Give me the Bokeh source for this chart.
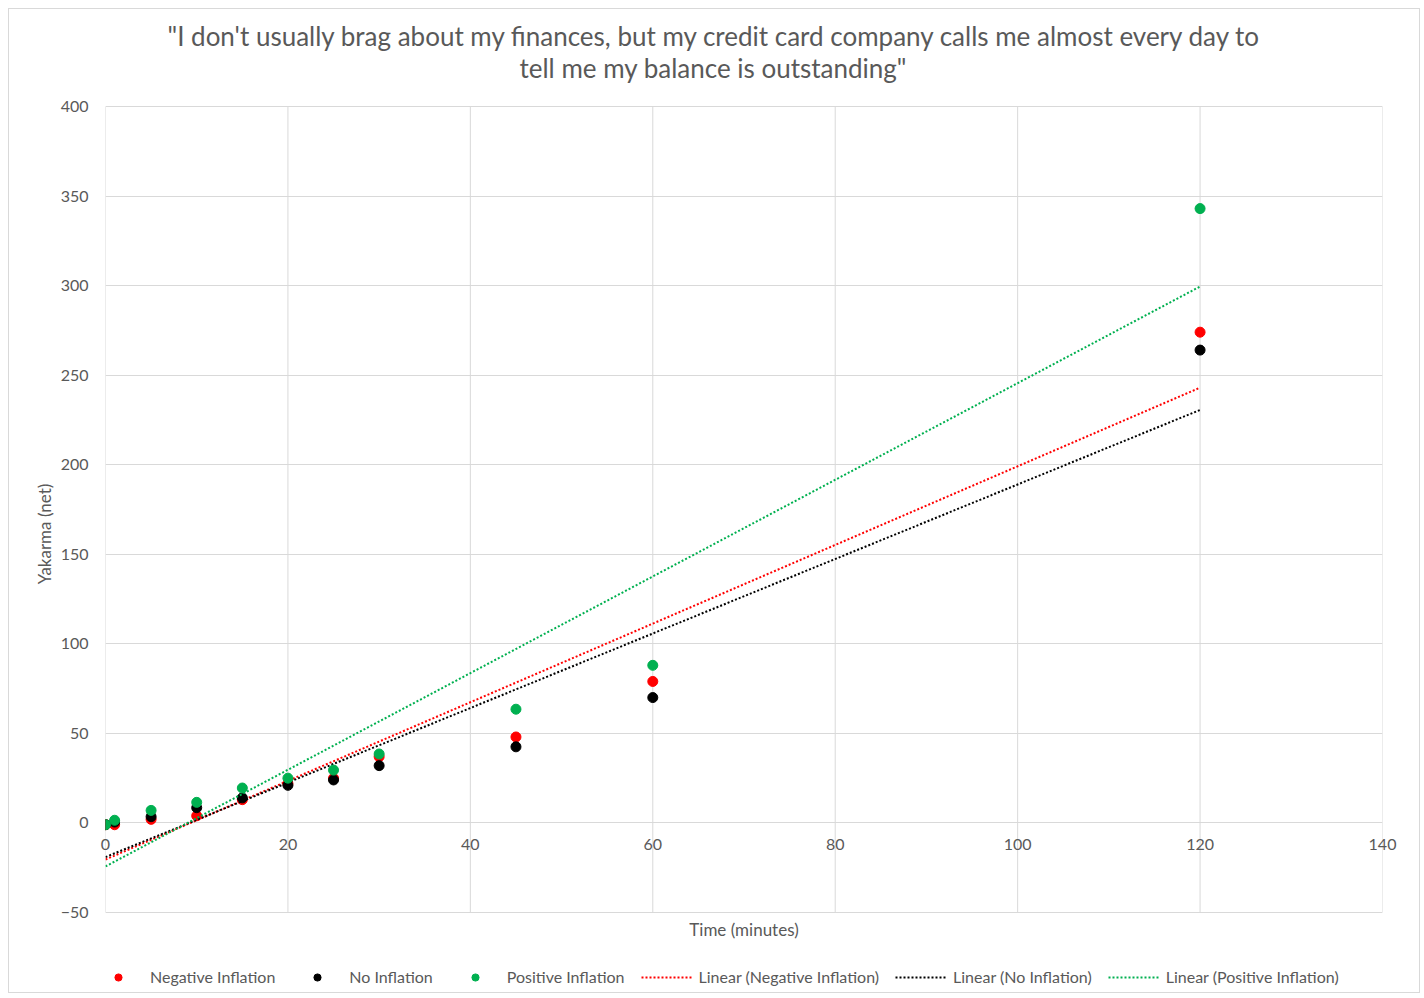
import numpy as np
from bokeh.plotting import figure
from bokeh.models import Range1d, Legend, LegendItem, FixedTicker, Title
from bokeh.embed import file_html
from bokeh.resources import INLINE

# ---- data ----
time_min = [0, 1, 5, 10, 15, 20, 25, 30, 45, 60, 120]
negative_inflation = [-1, -1, 2, 4, 13, 22, 25, 37, 48, 79, 274]
no_inflation = [-1, 0.5, 3.5, 8.5, 14, 21, 24, 32, 42.5, 70, 264]
positive_inflation = [-1, 1.5, 7, 11.5, 19.5, 25, 29.5, 38.5, 63.5, 88, 343]

series_names = ["Negative Inflation", "No Inflation", "Positive Inflation"]
series_colors = ["#FF0000", "#000000", "#00B050"]

x_ticks = [0, 20, 40, 60, 80, 100, 120, 140]
y_ticks = [-50, 0, 50, 100, 150, 200, 250, 300, 350, 400]

title_line1 = '"I don\'t usually brag about my finances, but my credit card company calls me almost every day to'
title_line2 = 'tell me my balance is outstanding"'

FONT = "Lato"
TXT = "#595959"
GRID = "#d9d9d9"

# layout: the plot area (y from -50 to 400) is 806 px tall; the frame is extended
# below it (room for the legend) and a little above it
PLOT_PX = 806
PX_PER_UNIT = PLOT_PX / (y_ticks[-1] - y_ticks[0])
EXTRA_BELOW = 80
EXTRA_ABOVE = 31

p = figure(frame_width=1277, frame_height=PLOT_PX + EXTRA_BELOW + EXTRA_ABOVE,
           output_backend="svg", toolbar_location=None,
           x_range=Range1d(x_ticks[0], x_ticks[-1]),
           y_range=Range1d(y_ticks[0] - EXTRA_BELOW / PX_PER_UNIT, y_ticks[-1] + EXTRA_ABOVE / PX_PER_UNIT),
           min_border_left=96, min_border_right=37, min_border_top=66, min_border_bottom=0,
           background_fill_color="white", border_fill_color="white")

p.styles = {"border": "1px solid #d9d9d9", "margin-left": "8px", "margin-top": "8px"}

p.title.text = title_line1
p.title.align = "left"
p.title.offset = 62
p.title.text_font = FONT
p.title.text_font_size = "26px"
p.title.text_font_style = "normal"
p.title.text_color = TXT
p.title.standoff = 12
p.add_layout(Title(text=title_line2, align="left", offset=414, text_font=FONT, text_font_size="26px",
                   text_font_style="normal", text_color=TXT, standoff=-16), "above")

p.outline_line_color = None
p.xgrid.visible = False
p.ygrid.ticker = FixedTicker(ticks=y_ticks)
p.ygrid.grid_line_color = GRID
p.ygrid.grid_line_width = 1

# vertical grid lines, limited to the plot area (y from -50 to 400)
n_x = len(x_ticks)
p.segment(x0=x_ticks, y0=[y_ticks[0]] * n_x, x1=x_ticks, y1=[y_ticks[-1]] * n_x,
          line_color=GRID, line_width=1)

for ax in (p.xaxis[0], p.yaxis[0]):
    ax.axis_line_color = None
    ax.major_tick_line_color = None
    ax.minor_tick_line_color = None
    ax.major_tick_out = 0
    ax.major_tick_in = 0
    ax.minor_tick_out = 0
    ax.major_label_text_font = FONT
    ax.major_label_text_font_size = "16px"
    ax.major_label_text_color = TXT
    ax.axis_label_text_font = FONT
    ax.axis_label_text_font_size = "17px"
    ax.axis_label_text_font_style = "normal"
    ax.axis_label_text_color = TXT

p.xaxis.ticker = FixedTicker(ticks=x_ticks)
p.yaxis.ticker = FixedTicker(ticks=y_ticks)
# x tick labels sit just under the y = 0 line, as in the reference
p.xaxis.major_label_standoff = -74 - EXTRA_BELOW
p.xaxis.axis_label = "Time (minutes)"
p.xaxis.axis_label_standoff = 66
p.yaxis.major_label_standoff = 17
p.yaxis.axis_label = "Yakarma (net)"
p.yaxis.axis_label_standoff = 3

xs = np.array(time_min, dtype=float)
point_items = []
line_items = []
for name, ys, color in zip(series_names, [negative_inflation, no_inflation, positive_inflation], series_colors):
    slope, intercept = np.polyfit(xs, np.array(ys, dtype=float), 1)
    x_fit = [min(time_min), max(time_min)]
    y_fit = [intercept + slope * v for v in x_fit]
    lr = p.line(x_fit, y_fit, line_color=color, line_width=2, line_dash="2 2")
    sr = p.scatter(time_min, ys, size=10, fill_color=color, line_color=color)
    point_items.append(LegendItem(label=name, renderers=[sr]))
    line_items.append(LegendItem(label=f"Linear ({name})", renderers=[lr]))

legend = Legend(items=point_items + line_items, orientation="horizontal", location=(-13, 6),
                nrows=1,
                label_text_font=FONT, label_text_font_size="16px", label_text_color=TXT,
                glyph_width=52, glyph_height=18, label_standoff=6, spacing=16,
                border_line_color=None, background_fill_alpha=0, padding=0, margin=0)
p.add_layout(legend, "center")

open("out.html", "w").write(file_html(p, INLINE))
